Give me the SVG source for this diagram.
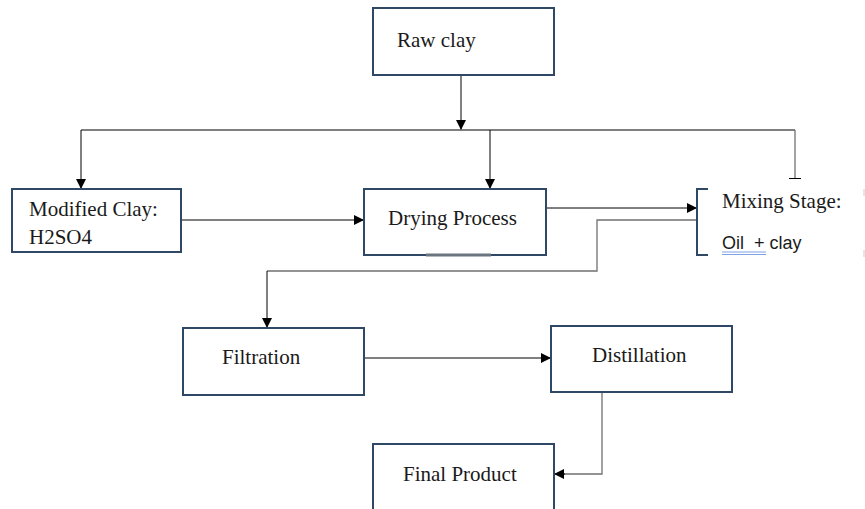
<svg xmlns="http://www.w3.org/2000/svg" width="865" height="509" viewBox="0 0 865 509">
<defs>
<marker id="ah" markerWidth="10" markerHeight="10" refX="9" refY="5" orient="auto" markerUnits="userSpaceOnUse">
<path d="M0,0 L10,5 L0,10 Z" fill="#000"/>
</marker>
</defs>
<style>
.box{fill:#fff;stroke:#2e4866;stroke-width:2}
.t{font-family:"Liberation Serif","Times New Roman",serif;font-size:21px;fill:#1a1a1a}
.s{font-family:"Liberation Sans",Arial,sans-serif;font-size:18px;fill:#1a1a1a}
.c{fill:none;stroke:#000;stroke-width:1}
.g{fill:none;stroke:#707070;stroke-width:1.3}
</style>
<rect width="865" height="509" fill="#fff"/>
<g id="connectors">
<path class="c" d="M461,75 V129" marker-end="url(#ah)"/>
<path class="c" d="M81,130 H795"/>
<path class="c" d="M81,130 V188" marker-end="url(#ah)"/>
<path class="c" d="M490,130 V188" marker-end="url(#ah)"/>
<path class="g" d="M795,130 V178"/>
<path class="c" d="M789,178.5 H801" stroke-width="1.5"/>
<path class="c" d="M182,220 H363" marker-end="url(#ah)"/>
<path class="c" d="M547,208 H696" marker-end="url(#ah)"/>
<path class="g" d="M697,220 H597 V271 H267"/>
<path class="c" d="M267,271 V327" marker-end="url(#ah)"/>
<path class="c" d="M365,358 H550" marker-end="url(#ah)"/>
<path class="g" d="M602,393 V474 H560"/>
<path class="c" d="M565,474 H555" marker-end="url(#ah)"/>
</g>
<g id="raw-clay">
<rect class="box" x="373" y="8" width="181" height="67"/>
<text class="t" x="397" y="47">Raw clay</text>
</g>
<g id="modified-clay">
<rect class="box" x="12" y="189" width="169" height="63"/>
<text class="t" x="29" y="216">Modified Clay:</text>
<text class="t" x="29" y="244">H2SO4</text>
</g>
<g id="drying-process">
<rect class="box" x="364" y="189" width="182" height="66"/>
<path d="M426,255 H491" stroke="#6b7580" stroke-width="3"/>
<text class="t" x="388" y="225">Drying Process</text>
</g>
<g id="mixing-stage">
<path d="M708,189 H697 V255 H708" fill="none" stroke="#2e4866" stroke-width="2"/>
<path d="M864,189 V196 M864,250 V257" stroke="#ccc" stroke-width="1"/>
<text class="t" x="722" y="208">Mixing Stage:</text>
<text class="s" x="722" y="249" xml:space="preserve">Oil  + clay</text>
<path d="M722,252 H766 M722,254.5 H766" stroke="#7fa1e6" stroke-width="1"/>
</g>
<g id="filtration">
<rect class="box" x="183" y="328" width="181" height="67"/>
<text class="t" x="222" y="364">Filtration</text>
</g>
<g id="distillation">
<rect class="box" x="551" y="326" width="181" height="66"/>
<text class="t" x="592" y="362">Distillation</text>
</g>
<g id="final-product">
<rect class="box" x="373" y="444" width="181" height="80"/>
<text class="t" x="403" y="481">Final Product</text>
</g>
</svg>
